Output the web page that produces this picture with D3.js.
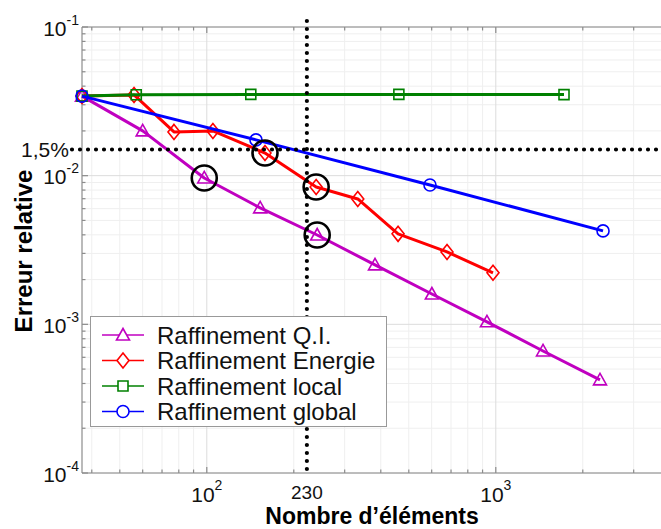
<!DOCTYPE html>
<html>
<head>
<meta charset="utf-8">
<script src="https://cdn.jsdelivr.net/npm/d3@7"></script>
<style>
  body { margin: 0; background: #fff; }
  text { font-family: "Liberation Sans", Arial, sans-serif; }
</style>
</head>
<body>
<div id="chart"></div>
<script>
// data (nombre d'elements vs erreur relative)
const qiX = [37, 60, 98, 153, 241, 382, 601, 932, 1457, 2294];
const qiY = [0.0343, 0.0200, 0.00965, 0.00607, 0.00399, 0.00251, 0.00160, 0.00104, 0.000662, 0.000423];
const enX = [37, 56, 77, 105, 159, 239, 333, 459, 678, 978];
const enY = [0.0343, 0.0349, 0.0197, 0.0200, 0.0142, 0.00839, 0.00697, 0.00406, 0.00307, 0.00222];
const locX = [37, 57, 142, 462, 1722];
const locY = [0.0343, 0.0350, 0.0352, 0.0352, 0.0351];
const globX = [37, 148, 592, 2350];
const globY = [0.0343, 0.0174, 0.00866, 0.00425];

const legendLabels = ["Raffinement Q.I.", "Raffinement Energie", "Raffinement local", "Raffinement global"];
const xTicks = [100, 1000];
const yTicks = [1e-1, 1e-2, 1e-3, 1e-4];

// reference lines: threshold 1,5% and the 230 elements mark
const seuil = 0.015;
const seuilLabel = "1,5%";
const markElems = 222;
const markLabel = "230";

// circled points: [series index, point index]
const circled = [[0, 2], [1, 4], [1, 5], [0, 4]];

const width = 661, height = 529;
const svg = d3.select("#chart").append("svg")
  .attr("width", width)
  .attr("height", height);

const x = d3.scaleLog().domain([37, 3700]).range([82, 660]);
const y = d3.scaleLog().domain([1e-4, 1e-1]).range([473, 27]);

const series = [
  { xs: qiX, ys: qiY, color: "#c000c0", marker: "tri" },
  { xs: enX, ys: enY, color: "#ff0000", marker: "dia" },
  { xs: locX, ys: locY, color: "#008000", marker: "sq" },
  { xs: globX, ys: globY, color: "#0000ff", marker: "circ" }
];

const markerPath = {
  tri: "M0,-6.5L6.5,5L-6.5,5Z",
  dia: "M0,-7.5L6,0L0,7.5L-6,0Z",
  sq: "M-5,-5L5,-5L5,5L-5,5Z",
  circ: "M6,0A6,6 0 1,1 -6,0A6,6 0 1,1 6,0Z"
};

// grid
const [x0, x1] = x.range();
const [yb, yt] = y.range();
const minorX = [], minorY = [];
for (let d = 10; d <= 1000; d *= 10) for (let k = 2; k <= 9; k++) if (d * k >= 37 && d * k <= 3700) minorX.push(d * k);
for (let d = 1e-4; d < 0.099; d *= 10) for (let k = 2; k <= 9; k++) minorY.push(d * k);

const grid = svg.append("g");
grid.selectAll(".gxm").data(minorX).enter().append("line")
  .attr("x1", d => x(d)).attr("x2", d => x(d)).attr("y1", yt).attr("y2", yb)
  .attr("stroke", "#efefef").attr("stroke-width", 1);
grid.selectAll(".gym").data(minorY).enter().append("line")
  .attr("y1", d => y(d)).attr("y2", d => y(d)).attr("x1", x0).attr("x2", width)
  .attr("stroke", "#efefef").attr("stroke-width", 1);
grid.selectAll(".gx").data(xTicks).enter().append("line")
  .attr("x1", d => x(d)).attr("x2", d => x(d)).attr("y1", yt).attr("y2", yb)
  .attr("stroke", "#dcdcdc").attr("stroke-width", 1);
grid.selectAll(".gy").data(yTicks).enter().append("line")
  .attr("y1", d => y(d)).attr("y2", d => y(d)).attr("x1", x0).attr("x2", width)
  .attr("stroke", "#dcdcdc").attr("stroke-width", 1);

// axes (box lines + inner ticks)
const ax = svg.append("g").attr("stroke", "#8c8c8c").attr("stroke-width", 1.2);
ax.append("line").attr("x1", x0).attr("x2", x0).attr("y1", yt).attr("y2", yb);
ax.append("line").attr("x1", x0).attr("x2", width).attr("y1", yb).attr("y2", yb);
ax.append("line").attr("x1", x0).attr("x2", width).attr("y1", yt).attr("y2", yt);
const allX = minorX.concat(xTicks), allY = minorY.concat(yTicks);
allX.forEach(v => {
  const len = xTicks.includes(v) ? 6 : 3.5;
  ax.append("line").attr("x1", x(v)).attr("x2", x(v)).attr("y1", yb).attr("y2", yb - len);
  ax.append("line").attr("x1", x(v)).attr("x2", x(v)).attr("y1", yt).attr("y2", yt + len);
});
allY.forEach(v => {
  const len = yTicks.includes(v) ? 6 : 3.5;
  ax.append("line").attr("x1", x0).attr("x2", x0 + len).attr("y1", y(v)).attr("y2", y(v));
});

// tick labels with exponents
yTicks.forEach(v => {
  const t = svg.append("text").attr("x", 79).attr("y", y(v) + 8.5)
    .attr("text-anchor", "end").attr("font-size", 21).attr("fill", "#111");
  t.append("tspan").text("10");
  t.append("tspan").attr("dy", -11).attr("font-size", 14).text(Math.round(Math.log10(v)));
});
xTicks.forEach(v => {
  const t = svg.append("text").attr("x", x(v)).attr("y", 502)
    .attr("text-anchor", "middle").attr("font-size", 21).attr("fill", "#111");
  t.append("tspan").text("10");
  t.append("tspan").attr("dy", -12).attr("font-size", 14).text(Math.round(Math.log10(v)));
});
svg.append("text").attr("x", x(markElems)).attr("y", 499)
  .attr("text-anchor", "middle").attr("font-size", 19).attr("fill", "#111").text(markLabel);
svg.append("text").attr("x", 21).attr("y", y(seuil) + 7.5)
  .attr("font-size", 21).attr("fill", "#111").text(seuilLabel);

// axis titles
svg.append("text").attr("x", 372).attr("y", 524).attr("text-anchor", "middle")
  .attr("font-size", 23).attr("font-weight", "bold").text("Nombre d’éléments");
svg.append("text").attr("transform", "translate(32,251) rotate(-90)").attr("text-anchor", "middle")
  .attr("font-size", 24).attr("font-weight", "bold").text("Erreur relative");

// series
const line = d3.line().x(d => x(d[0])).y(d => y(d[1]));
series.forEach(s => {
  const pts = s.xs.map((v, i) => [v, s.ys[i]]);
  svg.append("path").datum(pts).attr("d", line)
    .attr("fill", "none").attr("stroke", s.color).attr("stroke-width", 3)
    .attr("stroke-linejoin", "round");
  svg.selectAll(null).data(pts).enter().append("path")
    .attr("d", markerPath[s.marker])
    .attr("transform", d => `translate(${x(d[0])},${y(d[1])})`)
    .attr("fill", "none").attr("stroke", s.color).attr("stroke-width", 1.6);
});

// dotted reference lines
svg.append("line").attr("x1", 72).attr("x2", width).attr("y1", y(seuil)).attr("y2", y(seuil))
  .attr("stroke", "#000").attr("stroke-width", 4.2).attr("stroke-linecap", "round")
  .attr("stroke-dasharray", "0 8");
svg.append("line").attr("x1", x(markElems)).attr("x2", x(markElems)).attr("y1", 21).attr("y2", 477)
  .attr("stroke", "#000").attr("stroke-width", 4.2).attr("stroke-linecap", "round")
  .attr("stroke-dasharray", "0 8");

// circled points
circled.forEach(([si, pi]) => {
  const s = series[si];
  svg.append("circle").attr("cx", x(s.xs[pi])).attr("cy", y(s.ys[pi])).attr("r", 12.5)
    .attr("fill", "none").attr("stroke", "#000").attr("stroke-width", 2.6);
});

// legend
const lg = svg.append("g");
lg.append("rect").attr("x", 90.5).attr("y", 316.5).attr("width", 296).attr("height", 110)
  .attr("fill", "#fff").attr("stroke", "#999").attr("stroke-width", 1);
legendLabels.forEach((lab, i) => {
  const s = series[i];
  const cy = 335 + i * 25.5;
  lg.append("line").attr("x1", 102).attr("x2", 144).attr("y1", cy).attr("y2", cy)
    .attr("stroke", s.color).attr("stroke-width", 1.5);
  lg.append("path").attr("d", markerPath[s.marker]).attr("transform", `translate(123,${cy})`)
    .attr("fill", "#fff").attr("stroke", s.color).attr("stroke-width", 1.6);
  lg.append("text").attr("x", 157).attr("y", cy + 8.5).attr("font-size", 24).attr("fill", "#111").text(lab);
});
</script>
</body>
</html>
